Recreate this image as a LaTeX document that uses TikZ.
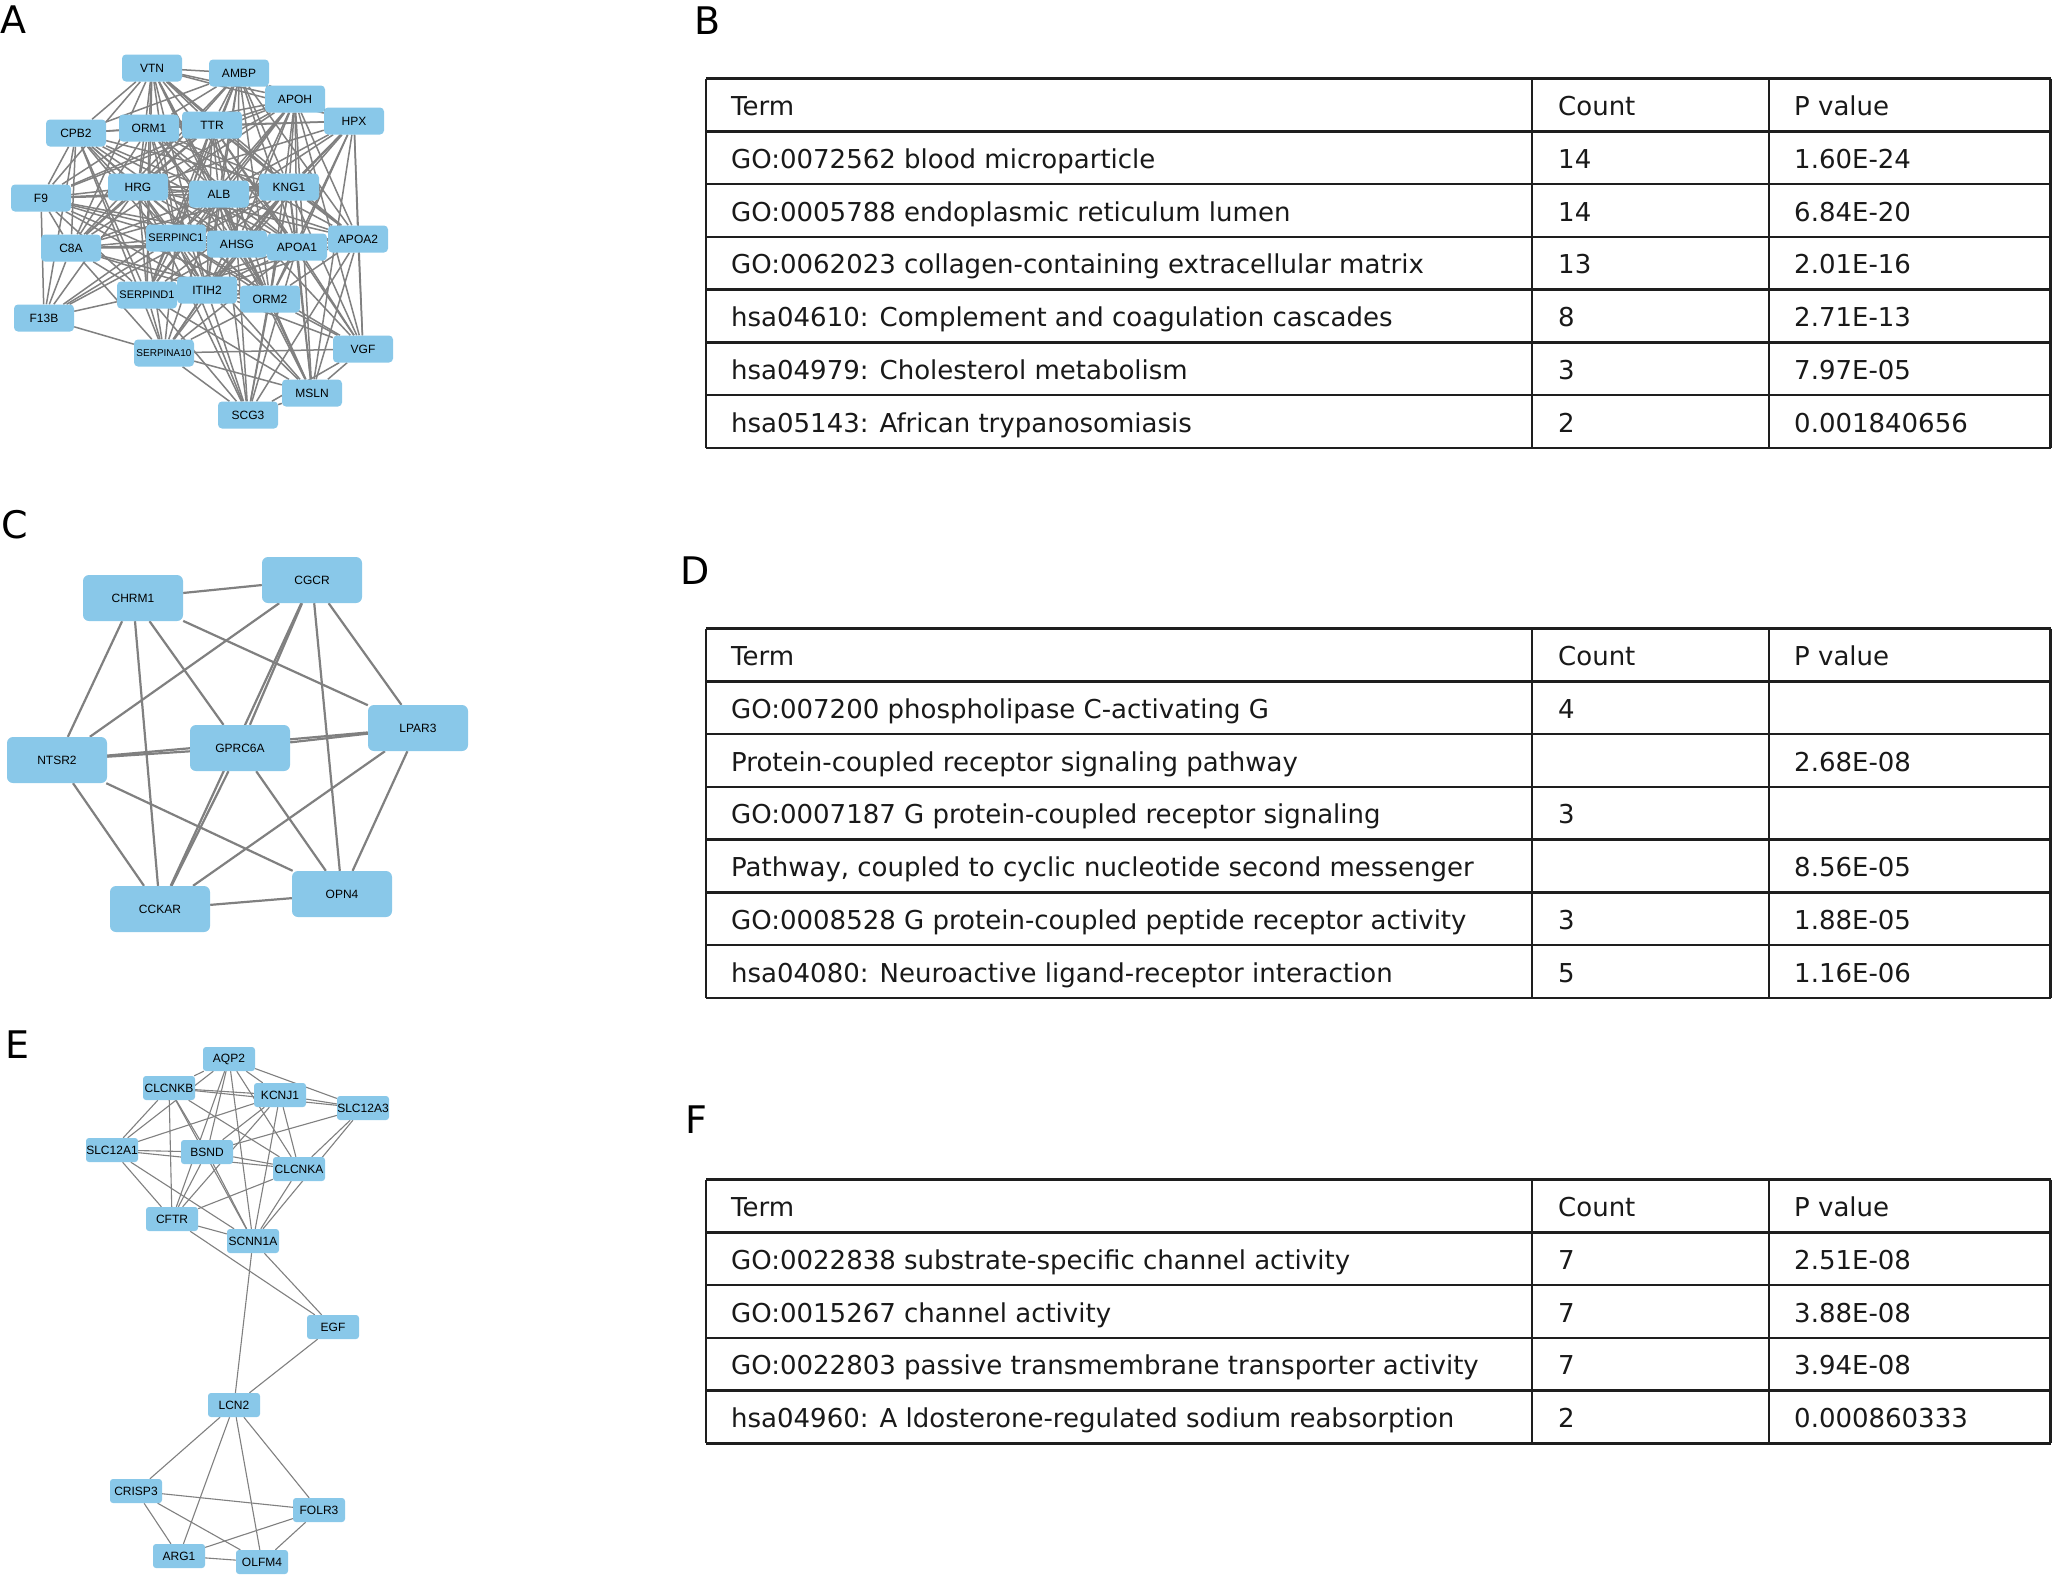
\documentclass[tikz,border=0pt]{standalone}
\usepackage{fontspec}
\setmainfont{DejaVu Sans}
\newfontfamily\netfont{Liberation Sans}
\pgfdeclarelayer{bgpaper}
\pgfdeclarelayer{edges}
\pgfsetlayers{bgpaper,edges,main}
\definecolor{nodeblue}{RGB}{137,200,233}
\definecolor{edgegray}{RGB}{128,128,128}
\definecolor{rulecol}{RGB}{30,30,30}
\begin{document}
\begin{tikzpicture}[x=1pt,y=-1pt,
  anode/.style={fill=nodeblue, rounded corners=4pt, minimum width=60pt, minimum height=27pt, inner sep=0pt, font=\netfont\fontsize{12}{12}\selectfont},
  asmall/.style={font=\netfont\fontsize{11}{11}\selectfont},
  atiny/.style={font=\netfont\fontsize{10}{10}\selectfont},
  cnode/.style={fill=nodeblue, rounded corners=6pt, minimum width=100pt, minimum height=46pt, inner sep=0pt, font=\netfont\fontsize{12}{12}\selectfont},
  enode/.style={fill=nodeblue, rounded corners=3pt, minimum width=52pt, minimum height=24pt, inner sep=0pt, font=\netfont\fontsize{12}{12}\selectfont},
  aedge/.style={draw=edgegray, line width=1.5pt},
  cedge/.style={draw=edgegray, line width=2.2pt},
  eedge/.style={draw=edgegray, line width=1.1pt},
  letter/.style={anchor=base west, inner sep=0pt, font=\fontsize{38}{38}\selectfont},
  tabtext/.style={anchor=base west, inner sep=0pt, font=\fontsize{26}{30}\selectfont, text=black!90},
  tabline/.style={draw=rulecol, line width=2.5pt}]
\begin{pgfonlayer}{bgpaper}
\fill[white] (0,0) rectangle (2053,1583);
\end{pgfonlayer}
\useasboundingbox (0,0) rectangle (2053,1583);

% ---------------- panel letters
\node[letter] (labA) at (0,33) {A};
\node[letter] (labB) at (694,34) {B};
\node[letter] (labC) at (1,538) {C};
\node[letter] (labD) at (680,584) {D};
\node[letter] (labE) at (5,1058) {E};
\node[letter] (labF) at (685,1133) {F};

% ---------------- panel A
\node[anode] (aVTN) at (152,68) {VTN};
\node[anode] (aAMBP) at (239,73) {AMBP};
\node[anode] (aAPOH) at (295,99) {APOH};
\node[anode] (aHPX) at (354,121) {HPX};
\node[anode] (aCPB2) at (76,133) {CPB2};
\node[anode] (aORM1) at (149,128) {ORM1};
\node[anode] (aTTR) at (212,125) {TTR};
\node[anode] (aHRG) at (138,187) {HRG};
\node[anode] (aALB) at (219,194) {ALB};
\node[anode] (aKNG1) at (289,187) {KNG1};
\node[anode] (aF9) at (41,198) {F9};
\node[anode] (aC8A) at (71,248) {C8A};
\node[anode,asmall] (aSERPINC1) at (176,238) {SERPINC1};
\node[anode] (aAHSG) at (237,244) {AHSG};
\node[anode] (aAPOA1) at (297,247) {APOA1};
\node[anode] (aAPOA2) at (358,239) {APOA2};
\node[anode,asmall] (aSERPIND1) at (147,295) {SERPIND1};
\node[anode] (aITIH2) at (207,290) {ITIH2};
\node[anode] (aORM2) at (270,299) {ORM2};
\node[anode] (aF13B) at (44,318) {F13B};
\node[anode,atiny] (aSERPINA10) at (164,353) {SERPINA10};
\node[anode] (aVGF) at (363,349) {VGF};
\node[anode] (aMSLN) at (312,393) {MSLN};
\node[anode] (aSCG3) at (248,415) {SCG3};

\begin{pgfonlayer}{edges}
\foreach \u/\v in {VTN/AMBP,VTN/APOH,VTN/HPX,VTN/CPB2,VTN/ORM1,VTN/TTR,VTN/HRG,VTN/ALB,VTN/KNG1,VTN/SERPINC1,VTN/AHSG,VTN/APOA1,VTN/APOA2,VTN/SERPIND1,VTN/ITIH2,VTN/ORM2,VTN/C8A,VTN/F9,
AMBP/APOH,AMBP/HPX,AMBP/ORM1,AMBP/TTR,AMBP/HRG,AMBP/ALB,AMBP/KNG1,AMBP/SERPINC1,AMBP/AHSG,AMBP/APOA1,AMBP/APOA2,AMBP/ITIH2,AMBP/ORM2,AMBP/CPB2,AMBP/SERPIND1,AMBP/C8A,
APOH/HPX,APOH/TTR,APOH/ORM1,APOH/HRG,APOH/ALB,APOH/KNG1,APOH/SERPINC1,APOH/AHSG,APOH/APOA1,APOH/APOA2,APOH/ITIH2,APOH/ORM2,APOH/VGF,APOH/MSLN,APOH/SERPIND1,APOH/C8A,APOH/F9,
HPX/TTR,HPX/ALB,HPX/KNG1,HPX/HRG,HPX/AHSG,HPX/APOA1,HPX/APOA2,HPX/ITIH2,HPX/ORM2,HPX/VGF,HPX/SERPINC1,HPX/MSLN,HPX/ORM1,
CPB2/ORM1,CPB2/TTR,CPB2/HRG,CPB2/ALB,CPB2/KNG1,CPB2/F9,CPB2/C8A,CPB2/SERPINC1,CPB2/AHSG,CPB2/APOA1,CPB2/SERPIND1,CPB2/ITIH2,CPB2/F13B,CPB2/ORM2,CPB2/SERPINA10,
ORM1/TTR,ORM1/HRG,ORM1/ALB,ORM1/KNG1,ORM1/F9,ORM1/C8A,ORM1/SERPINC1,ORM1/AHSG,ORM1/APOA1,ORM1/APOA2,ORM1/ORM2,ORM1/SERPIND1,ORM1/ITIH2,
TTR/HRG,TTR/ALB,TTR/KNG1,TTR/F9,TTR/C8A,TTR/SERPINC1,TTR/AHSG,TTR/APOA1,TTR/APOA2,TTR/ITIH2,TTR/ORM2,TTR/SERPIND1,TTR/VGF,
HRG/ALB,HRG/KNG1,HRG/F9,HRG/C8A,HRG/SERPINC1,HRG/AHSG,HRG/APOA1,HRG/APOA2,HRG/SERPIND1,HRG/ITIH2,HRG/ORM2,HRG/F13B,HRG/SERPINA10,HRG/SCG3,
ALB/KNG1,ALB/F9,ALB/C8A,ALB/SERPINC1,ALB/AHSG,ALB/APOA1,ALB/APOA2,ALB/SERPIND1,ALB/ITIH2,ALB/ORM2,ALB/F13B,ALB/SERPINA10,ALB/VGF,ALB/MSLN,ALB/SCG3,
KNG1/F9,KNG1/C8A,KNG1/SERPINC1,KNG1/AHSG,KNG1/APOA1,KNG1/APOA2,KNG1/SERPIND1,KNG1/ITIH2,KNG1/ORM2,KNG1/F13B,KNG1/SERPINA10,KNG1/VGF,KNG1/MSLN,KNG1/SCG3,
F9/C8A,F9/SERPINC1,F9/AHSG,F9/APOA1,F9/SERPIND1,F9/ITIH2,F9/F13B,F9/ORM2,
C8A/SERPINC1,C8A/AHSG,C8A/APOA1,C8A/APOA2,C8A/SERPIND1,C8A/ITIH2,C8A/ORM2,C8A/F13B,C8A/SERPINA10,
SERPINC1/AHSG,SERPINC1/APOA1,SERPINC1/APOA2,SERPINC1/SERPIND1,SERPINC1/ITIH2,SERPINC1/ORM2,SERPINC1/F13B,SERPINC1/SERPINA10,SERPINC1/MSLN,SERPINC1/SCG3,SERPINC1/VGF,
AHSG/APOA1,AHSG/APOA2,AHSG/SERPIND1,AHSG/ITIH2,AHSG/ORM2,AHSG/SERPINA10,AHSG/MSLN,AHSG/SCG3,
APOA1/APOA2,APOA1/SERPIND1,APOA1/ITIH2,APOA1/ORM2,APOA1/SERPINA10,APOA1/VGF,APOA1/MSLN,APOA1/SCG3,
APOA2/SERPIND1,APOA2/ITIH2,APOA2/ORM2,APOA2/VGF,APOA2/MSLN,APOA2/SCG3,
SERPIND1/ITIH2,SERPIND1/ORM2,SERPIND1/F13B,SERPIND1/SERPINA10,SERPIND1/SCG3,SERPIND1/MSLN,
ITIH2/ORM2,ITIH2/SERPINA10,ITIH2/VGF,ITIH2/MSLN,ITIH2/SCG3,
ORM2/SERPINA10,ORM2/VGF,ORM2/MSLN,ORM2/SCG3,
F13B/SERPINA10,SERPINA10/VGF,SERPINA10/MSLN,SERPINA10/SCG3,VGF/MSLN,VGF/SCG3,MSLN/SCG3}
  \draw[aedge] (a\u) -- (a\v);
\end{pgfonlayer}

% ---------------- panel C
\node[cnode] (cCHRM1) at (133,598) {CHRM1};
\node[cnode] (cCGCR) at (312,580) {CGCR};
\node[cnode] (cLPAR3) at (418,728) {LPAR3};
\node[cnode] (cNTSR2) at (57,760) {NTSR2};
\node[cnode] (cGPRC6A) at (240,748) {GPRC6A};
\node[cnode] (cCCKAR) at (160,909) {CCKAR};
\node[cnode] (cOPN4) at (342,894) {OPN4};
\begin{pgfonlayer}{edges}
\foreach \u/\v in {CHRM1/CGCR,CHRM1/NTSR2,CHRM1/CCKAR,CHRM1/GPRC6A,CHRM1/LPAR3,
CGCR/NTSR2,CGCR/GPRC6A,CGCR/CCKAR,CGCR/OPN4,CGCR/LPAR3,
NTSR2/GPRC6A,NTSR2/LPAR3,NTSR2/CCKAR,NTSR2/OPN4,
GPRC6A/LPAR3,GPRC6A/OPN4,GPRC6A/CCKAR,
LPAR3/CCKAR,LPAR3/OPN4,CCKAR/OPN4}
  \draw[cedge] (c\u) -- (c\v);
\end{pgfonlayer}

% ---------------- panel E
\node[enode] (eAQP2) at (229,1059) {AQP2};
\node[enode] (eCLCNKB) at (169,1088) {CLCNKB};
\node[enode] (eKCNJ1) at (280,1095) {KCNJ1};
\node[enode] (eSLC12A3) at (363,1108) {SLC12A3};
\node[enode] (eSLC12A1) at (112,1150) {SLC12A1};
\node[enode] (eBSND) at (207,1152) {BSND};
\node[enode] (eCLCNKA) at (299,1169) {CLCNKA};
\node[enode] (eCFTR) at (172,1219) {CFTR};
\node[enode] (eSCNN1A) at (253,1241) {SCNN1A};
\node[enode] (eEGF) at (333,1327) {EGF};
\node[enode] (eLCN2) at (234,1405) {LCN2};
\node[enode] (eCRISP3) at (136,1491) {CRISP3};
\node[enode] (eFOLR3) at (319,1510) {FOLR3};
\node[enode] (eARG1) at (179,1556) {ARG1};
\node[enode] (eOLFM4) at (262,1562) {OLFM4};
\begin{pgfonlayer}{edges}
\foreach \u/\v in {AQP2/CLCNKB,AQP2/KCNJ1,AQP2/SLC12A3,AQP2/BSND,AQP2/CFTR,AQP2/SCNN1A,AQP2/CLCNKA,AQP2/SLC12A1,
CLCNKB/KCNJ1,CLCNKB/SLC12A3,CLCNKB/BSND,CLCNKB/SCNN1A,CLCNKB/CFTR,CLCNKB/CLCNKA,CLCNKB/SLC12A1,
KCNJ1/SLC12A3,KCNJ1/SLC12A1,KCNJ1/BSND,KCNJ1/CFTR,KCNJ1/SCNN1A,KCNJ1/CLCNKA,
SLC12A3/BSND,SLC12A3/CLCNKA,SLC12A3/SCNN1A,
SLC12A1/BSND,SLC12A1/CLCNKA,SLC12A1/CFTR,SLC12A1/SCNN1A,
BSND/CLCNKA,BSND/CFTR,BSND/SCNN1A,
CLCNKA/CFTR,CLCNKA/SCNN1A,
CFTR/SCNN1A,CFTR/EGF,SCNN1A/LCN2,SCNN1A/EGF,
EGF/LCN2,LCN2/CRISP3,LCN2/ARG1,LCN2/OLFM4,LCN2/FOLR3,
CRISP3/FOLR3,CRISP3/ARG1,CRISP3/OLFM4,FOLR3/ARG1,FOLR3/OLFM4,ARG1/OLFM4}
  \draw[eedge] (e\u) -- (e\v);
\end{pgfonlayer}

% ---------------- tables
% table B
\foreach \k in {0,...,7} \draw[tabline] (706,{78.5+\k*52.75}) -- (2050.5,{78.5+\k*52.75});
\draw[tabline] (706,78.5) -- (706,447.75) (1532,78.5) -- (1532,447.75) (1769,78.5) -- (1769,447.75) (2050.5,78.5) -- (2050.5,447.75);
\foreach \t/\c/\p [count=\i from 0] in {Term/Count/P value,
GO:0072562 blood microparticle/14/1.60E-24,
GO:0005788 endoplasmic reticulum lumen/14/6.84E-20,
GO:0062023 collagen-containing extracellular matrix/13/2.01E-16,
hsa04610: Complement and coagulation cascades/8/2.71E-13,
hsa04979: Cholesterol metabolism/3/7.97E-05,
hsa05143: African trypanosomiasis/2/0.001840656}{
  \node[tabtext] (bT\i) at (731,{78.5+37+\i*52.75}) {\t};
  \node[tabtext] (bC\i) at (1558,{78.5+37+\i*52.75}) {\c};
  \node[tabtext] (bP\i) at (1794,{78.5+37+\i*52.75}) {\p};
}
% table D
\foreach \k in {0,...,7} \draw[tabline] (706,{628.5+\k*52.75}) -- (2050.5,{628.5+\k*52.75});
\draw[tabline] (706,628.5) -- (706,997.75) (1532,628.5) -- (1532,997.75) (1769,628.5) -- (1769,997.75) (2050.5,628.5) -- (2050.5,997.75);
\foreach \t/\c/\p [count=\i from 0] in {Term/Count/P value,
GO:007200 phospholipase C-activating G/4/{},
Protein-coupled receptor signaling pathway/{}/2.68E-08,
GO:0007187 G protein-coupled receptor signaling/3/{},
{Pathway, coupled to cyclic nucleotide second messenger}/{}/8.56E-05,
GO:0008528 G protein-coupled peptide receptor activity/3/1.88E-05,
hsa04080: Neuroactive ligand-receptor interaction/5/1.16E-06}{
  \node[tabtext] (dT\i) at (731,{628.5+37+\i*52.75}) {\t};
  \node[tabtext] (dC\i) at (1558,{628.5+37+\i*52.75}) {\c};
  \node[tabtext] (dP\i) at (1794,{628.5+37+\i*52.75}) {\p};
}
% table F
\foreach \k in {0,...,5} \draw[tabline] (706,{1179.5+\k*52.75}) -- (2050.5,{1179.5+\k*52.75});
\draw[tabline] (706,1179.5) -- (706,1443.25) (1532,1179.5) -- (1532,1443.25) (1769,1179.5) -- (1769,1443.25) (2050.5,1179.5) -- (2050.5,1443.25);
\foreach \t/\c/\p [count=\i from 0] in {Term/Count/P value,
GO:0022838 substrate-specific channel activity/7/2.51E-08,
GO:0015267 channel activity/7/3.88E-08,
GO:0022803 passive transmembrane transporter activity/7/3.94E-08,
hsa04960: A ldosterone-regulated sodium reabsorption/2/0.000860333}{
  \node[tabtext] (fT\i) at (731,{1179.5+37+\i*52.75}) {\t};
  \node[tabtext] (fC\i) at (1558,{1179.5+37+\i*52.75}) {\c};
  \node[tabtext] (fP\i) at (1794,{1179.5+37+\i*52.75}) {\p};
}
\end{tikzpicture}
\end{document}
